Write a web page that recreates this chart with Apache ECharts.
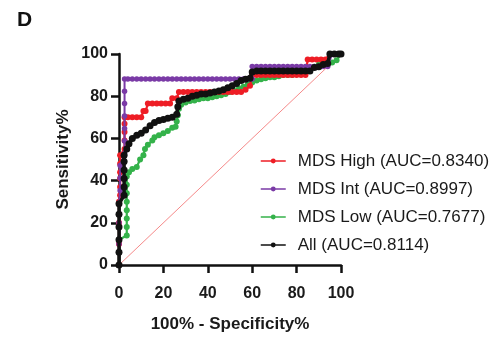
<!DOCTYPE html>
<html>
<head>
<meta charset="utf-8">
<script src="https://cdn.jsdelivr.net/npm/echarts@6/dist/echarts.min.js"></script>
<style>
  html, body {margin: 0; padding: 0; background: #fff;}
  #chart {width: 497px; height: 338px;}
</style>
</head>
<body>
<div id="chart"></div>
<script>
// ROC curves, values (x = 100% - specificity, y = sensitivity)
const highX = [0, 0, 0, 0, 0.5, 0.5, 0.5, 0.5, 0.5, 0.5, 2.5, 2.5, 2.5, 2.5, 2.5, 4, 6, 8, 10, 11, 12, 13, 15, 17, 19, 21, 23, 24, 26, 27, 29, 31, 33, 35, 37, 39, 41, 43, 45, 47, 49, 51, 53, 55, 57, 59, 60, 62, 64, 66, 68, 70, 72, 74, 76, 78, 80, 82, 84, 85, 87, 89, 91, 93, 95, 97, 99, 100];
const highY = [0, 10, 20, 30, 33, 37, 41, 44, 48, 52, 55, 59, 63, 67, 70, 70, 70, 70, 70, 73, 73, 76.5, 76.5, 76.5, 76.5, 76.5, 76.5, 79, 79, 82, 82, 82, 82, 82, 82, 82, 82, 82, 82, 82, 82, 82, 82, 82, 83, 85, 90, 90, 90, 90, 90, 90, 90, 90, 90, 90, 90, 90, 90, 97.4, 97.4, 97.4, 97.4, 97.4, 100, 100, 100, 100];

const intX = [0, 0, 0, 0, 0.5, 0.5, 0.5, 2.5, 2.5, 2.5, 2.5, 2.5, 2.5, 2.5, 4, 6, 8, 10, 12, 14, 16, 18, 20, 22, 24, 26, 28, 30, 32, 34, 36, 38, 40, 42, 44, 46, 48, 50, 52, 54, 56, 58, 60, 60, 62, 64, 66, 68, 70, 72, 74, 76, 78, 80, 82, 84, 86, 88, 90, 92, 94, 96, 98, 100];
const intY = [0, 10, 20, 29.4, 35.3, 41.2, 47.1, 52.9, 58.8, 64.7, 70.6, 76.5, 82.4, 88.2, 88.2, 88.2, 88.2, 88.2, 88.2, 88.2, 88.2, 88.2, 88.2, 88.2, 88.2, 88.2, 88.2, 88.2, 88.2, 88.2, 88.2, 88.2, 88.2, 88.2, 88.2, 88.2, 88.2, 88.2, 88.2, 88.2, 88.2, 88.2, 88.2, 94.1, 94.1, 94.1, 94.1, 94.1, 94.1, 94.1, 94.1, 94.1, 94.1, 94.1, 94.1, 94.1, 94.1, 94.1, 94.1, 94.1, 94.1, 100, 100, 100];

const lowX = [0, 0, 3.5, 3.5, 3.5, 3.5, 3.5, 3.5, 3.5, 3.5, 4.5, 6, 8, 9.5, 11, 11.7, 13, 15, 16, 18, 20, 22, 24, 25.5, 26, 26.5, 27, 28, 30, 32, 34, 36, 38, 40, 42, 44, 46, 48, 50, 52, 54, 56, 58, 60, 62, 64, 66, 68, 70, 72, 74, 76, 78, 80, 82, 84, 86, 88, 90, 92, 94, 96, 98, 100];
const lowY = [0, 12, 14, 18, 22, 26, 30, 34, 38, 42, 44, 45.5, 46.5, 50, 52, 55, 57, 59, 60.5, 61.5, 62.5, 63.5, 65, 65.5, 68, 71, 74, 76, 77, 77.7, 78, 78.5, 79, 79, 79.5, 80, 80.5, 81, 82, 82.5, 83.5, 84.5, 85.5, 86.5, 87.5, 88, 88.5, 89, 89, 89.5, 90, 90, 90, 90.5, 91, 91.4, 93, 94, 95, 95, 95.5, 96, 97, 100];

const allX = [0, 0, 0, 0, 0, 0, 2.3, 2.3, 2.3, 2.3, 2.3, 2.3, 3.5, 4.5, 6, 8, 10, 12, 14, 16, 18, 20, 22, 24, 26, 26.5, 27, 29, 31, 33, 35, 37, 39, 41, 43, 45, 47, 49, 51, 53, 55, 57, 59, 60, 62, 64, 66, 68, 70, 72, 74, 76, 78, 80, 82, 84, 86, 88, 90, 92, 94, 95, 97, 99, 100];
const allY = [0, 6, 12, 18, 24, 29, 33, 37, 41, 45, 49, 52, 55, 57.5, 60, 61.5, 62.5, 64, 66, 67.5, 68.5, 69, 69.5, 70, 71.5, 75, 77.7, 78.5, 79, 80, 80.5, 81, 81, 81.5, 82, 82.5, 83, 84, 85, 86, 87.5, 88, 88.5, 91.5, 92, 92, 92, 92, 92, 92, 92, 92, 92, 92, 92, 92, 92, 93.6, 94, 95, 95.5, 100, 100, 100, 100];

const refX = [0, 100];
const refY = [0, 100];

const names = ['MDS High (AUC=0.8340)', 'MDS Int (AUC=0.8997)', 'MDS Low (AUC=0.7677)', 'All (AUC=0.8114)'];

const zip = (xs, ys) => xs.map((x, i) => [x, ys[i]]);

const chart = echarts.init(document.getElementById('chart'));

const axisCommon = {
  type: 'value',
  min: 0,
  max: 100,
  interval: 20,
  axisLine: {show: true, lineStyle: {color: '#111', width: 2.5}},
  axisTick: {show: true, length: 8, lineStyle: {color: '#111', width: 2.5}},
  splitLine: {show: false},
  nameTextStyle: {fontFamily: 'Liberation Sans', fontWeight: 'bold', fontSize: 17, color: '#1a1a1a'},
};

const labelFont = {fontFamily: 'Liberation Sans', fontWeight: 'bold', fontSize: 16, color: '#1a1a1a'};

const curve = (name, xs, ys, color, width, size, z) => ({
  name: name,
  type: 'line',
  data: zip(xs, ys),
  symbol: 'circle',
  symbolSize: size,
  showAllSymbol: true,
  itemStyle: {color: color},
  lineStyle: {color: color, width: width},
  z: z,
});

chart.setOption({
  animation: false,
  backgroundColor: '#fff',
  title: {
    text: 'D',
    left: 12,
    top: 5,
    textStyle: {fontFamily: 'Liberation Sans', fontWeight: 'bold', fontSize: 21, color: '#111'},
  },
  grid: {left: 119, right: 156, top: 54, bottom: 64},
  xAxis: Object.assign({}, axisCommon, {
    name: '100% - Specificity%',
    nameLocation: 'middle',
    nameGap: 51,
    axisLabel: Object.assign({margin: 21}, labelFont),
  }),
  yAxis: Object.assign({}, axisCommon, {
    name: 'Sensitivity%',
    nameLocation: 'middle',
    nameGap: 47,
    axisLabel: Object.assign({margin: 11}, labelFont),
  }),
  legend: {
    orient: 'vertical',
    left: 255,
    top: 147,
    itemWidth: 25,
    itemHeight: 6,
    itemGap: 10,
    data: names,
    lineStyle: {width: 1.5},
    textStyle: {
      fontFamily: 'Liberation Sans', fontSize: 17, color: '#1a1a1a',
      lineHeight: 18, padding: [0, 0, 0, 7],
    },
  },
  series: [
    {
      type: 'line',
      data: zip(refX, refY),
      symbol: 'none',
      lineStyle: {color: '#f26b6b', width: 0.8},
      silent: true,
      z: 1,
    },
    curve(names[2], lowX, lowY, '#34b24a', 2.2, 6, 2),
    curve(names[0], highX, highY, '#ee1d25', 2.2, 6, 3),
    curve(names[1], intX, intY, '#7a3aa6', 2, 5.5, 4),
    curve(names[3], allX, allY, '#111111', 3.5, 7, 5),
  ],
});
</script>
</body>
</html>
